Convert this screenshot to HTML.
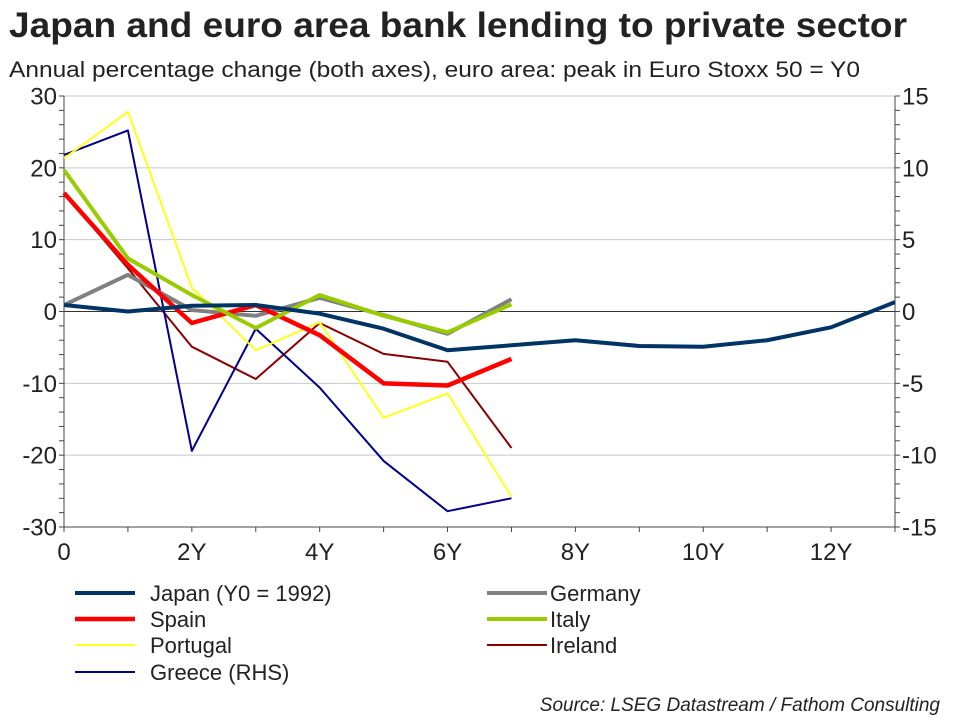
<!DOCTYPE html>
<html><head><meta charset="utf-8"><style>
body{margin:0;background:#fff;font-family:"Liberation Sans",Arial,sans-serif;}
svg text{font-family:"Liberation Sans",Arial,sans-serif;}
</style></head><body>
<svg width="960" height="720" viewBox="0 0 960 720">
<text x="9" y="37" font-size="35" font-weight="bold" fill="#222" textLength="898" lengthAdjust="spacingAndGlyphs">Japan and euro area bank lending to private sector</text>
<text x="9" y="77" font-size="22" fill="#222" textLength="851" lengthAdjust="spacingAndGlyphs">Annual percentage change (both axes), euro area: peak in Euro Stoxx 50 = Y0</text>
<g id="grid"></g><g id="axes"></g><g id="series"></g><g id="legend"></g>
<text x="940" y="711" font-size="19" font-style="italic" fill="#222" text-anchor="end">Source: LSEG Datastream / Fathom Consulting</text>
</svg>
<script>
const years=[0,1,2,3,4,5,6,7,8,9,10,11,12,13];
const xTickLabels=["0","2Y","4Y","6Y","8Y","10Y","12Y"];
const leftTicks=[30,20,10,0,-10,-20,-30];
const rightTicks=[15,10,5,0,-5,-10,-15];
const japan=[0.9,0,0.8,0.9,-0.3,-2.4,-5.4,-4.7,-4.0,-4.8,-4.9,-4.0,-2.2,1.3];
const germany=[0.9,5.1,0.2,-0.6,1.9,-0.5,-3.1,1.7];
const spain=[16.5,6.5,-1.6,0.9,-3.3,-10,-10.3,-6.6];
const italy=[19.7,7.4,2.3,-2.3,2.3,-0.6,-2.9,1.0];
const portugal=[21.3,27.8,3.3,-5.4,-1.5,-14.8,-11.4,-25.8];
const ireland=[16.5,6,-4.9,-9.4,-1.6,-5.9,-7.0,-19];
const greece=[10.9,12.6,-9.7,-1.2,-5.3,-10.4,-13.9,-13.0];
const NS="http://www.w3.org/2000/svg";
const X0=64,X1=895,YT=96,YB=527;
const xs=v=>X0+v*(X1-X0)/13;
const yl=v=>YB-(v+30)*(YB-YT)/60;
const yr=v=>YB-(v+15)*(YB-YT)/30;
function mk(p,tag,a){const e=document.createElementNS(NS,tag);for(const k in a)e.setAttribute(k,a[k]);p.appendChild(e);return e;}
const grid=document.getElementById('grid'),axes=document.getElementById('axes'),ser=document.getElementById('series'),leg=document.getElementById('legend');
leftTicks.forEach(t=>{
 if(t!==0&&t!==-30){const g=mk(grid,'line',{x1:X0,x2:X1,y1:yl(t),y2:yl(t),stroke:'#c8c8c8','stroke-width':1});
 
 }
 const tx=mk(axes,'text',{x:57,y:yl(t)+8.5,'font-size':24,'text-anchor':'end',fill:'#222'});tx.textContent=t;
 
 
});
rightTicks.forEach(t=>{
 const tx=mk(axes,'text',{x:902,y:yr(t)+8.5,'font-size':24,fill:'#222'});tx.textContent=t;
 
 
});
for(let v=-30;v<=30;v+=2){mk(axes,'line',{x1:X0-5,x2:X0,y1:yl(v),y2:yl(v),stroke:'#444'});}
for(let v=-15;v<=15;v+=1){mk(axes,'line',{x1:X1,x2:X1+5,y1:yr(v),y2:yr(v),stroke:'#444'});}
years.forEach(y=>mk(axes,'line',{x1:xs(y),x2:xs(y),y1:YB,y2:YB+5,stroke:'#444'}));
xTickLabels.forEach((l,i)=>{const tx=mk(axes,'text',{x:xs(i*2),y:560,'font-size':24,'text-anchor':'middle',fill:'#222'});tx.textContent=l;
 
 });
mk(axes,'line',{x1:X0,x2:X0,y1:YT,y2:YB,stroke:'#444'});
mk(axes,'line',{x1:X1,x2:X1,y1:YT,y2:YB,stroke:'#444'});
mk(axes,'line',{x1:X0,x2:X1,y1:YB,y2:YB,stroke:'#444'});
mk(axes,'line',{x1:X0,x2:X1,y1:yl(0),y2:yl(0),stroke:'#333'});
const S=[
 ['ireland',ireland,'#8b0000',2,yl],['greece',greece,'#00008b',2,yr],['portugal',portugal,'#ffff1a',2,yl],
 ['germany',germany,'#808080',4,yl],['spain',spain,'#ff0000',4.5,yl],['italy',italy,'#99cc00',4,yl],['japan',japan,'#003366',4,yl]];
S.forEach(([n,d,c,w,f])=>{
 const p=mk(ser,'polyline',{points:d.map((v,i)=>xs(years[i])+','+f(v)).join(' '),fill:'none',stroke:c,'stroke-width':w,'stroke-linejoin':'round'});
 
 
});
const L=[['Japan (Y0 = 1992)','#003366',4,75,150,593],['Germany','#808080',4,487,550,593],['Spain','#ff0000',4.5,75,150,619],['Italy','#99cc00',4,487,550,619],['Portugal','#ffff1a',2,75,150,645],['Ireland','#8b0000',2,487,550,645],['Greece (RHS)','#00008b',2,75,150,672]];
L.forEach(([t,c,w,lx,tx,y])=>{
 const g=mk(leg,'g',{});
 
 
 mk(g,'line',{x1:lx,x2:lx+60,y1:y,y2:y,stroke:c,'stroke-width':w});
 const e=mk(g,'text',{x:tx,y:y+8,'font-size':22,fill:'#222'});e.textContent=t;
});
</script>
</body></html>
